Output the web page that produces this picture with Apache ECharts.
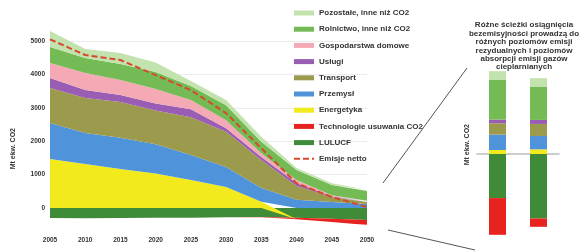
<!DOCTYPE html>
<html>
<head>
<meta charset="utf-8">
<script src="https://cdn.jsdelivr.net/npm/echarts@6/dist/echarts.min.js"></script>
<style>
  html, body { margin: 0; padding: 0; background: #fff; }
  #chart { width: 584px; height: 251px; }
</style>
</head>
<body>
<div id="chart"></div>
<script>
// lata na osi X
const years = ['2005', '2010', '2015', '2020', '2025', '2030', '2035', '2040', '2045', '2050']

// emisje wg sektorów [Mt ekw. CO2]
const energetyka = [1470, 1320, 1170, 1030, 840, 630, 190, 0, 0, 0]
const przemysl = [1075, 925, 930, 880, 750, 600, 410, 250, 180, 120]
const transport = [1045, 1045, 1070, 1010, 1130, 1050, 840, 410, 150, 60]
const uslugi = [300, 240, 210, 210, 240, 110, 90, 90, 20, 15]
const gospodarstwa = [450, 510, 450, 430, 270, 240, 110, 90, 30, 20]
const rolnictwo = [480, 450, 480, 510, 420, 450, 340, 300, 310, 295]
const pozostale = [480, 270, 330, 290, 150, 150, 150, 60, 50, 40]
const lulucf = [-300, -310, -300, -290, -290, -280, -270, -290, -320, -360]
const technologie = [0, 0, 0, 0, 0, 0, -10, -50, -100, -150]
const emisjeNetto = [5050, 4580, 4430, 3980, 3530, 2840, 1790, 740, 330, 30]

// dwie ścieżki w 2050 (prawy panel)
const sciezki = ['Ścieżka 1', 'Ścieżka 2']
const barEnergetyka = [120, 140]
const barPrzemysl = [460, 400]
const barTransport = [340, 360]
const barUslugi = [110, 120]
const barRolnictwo = [1200, 1000]
const barPozostale = [250, 250]
const barLulucf = [-1320, -1930]
const barTechnologie = [-1100, -250]

const yTicks = [0, 1000, 2000, 3000, 4000, 5000]

const colors = {
  'Pozostałe, inne niż CO2': '#c3e3ae',
  'Rolnictwo, inne niż CO2': '#74bb55',
  'Gospodarstwa domowe': '#f4a9b5',
  'Usługi': '#9a5db4',
  'Transport': '#9c9a4d',
  'Przemysł': '#4f93da',
  'Energetyka': '#f3ea1e',
  'Technologie usuwania CO2': '#e8231f',
  'LULUCF': '#408b38',
  'Emisje netto': '#d6492c'
}

const font = 'Liberation Sans Narrow, Liberation Sans, Arial, sans-serif'

const areaLayers = [
  ['LULUCF', lulucf],
  ['Technologie usuwania CO2', technologie],
  ['Energetyka', energetyka],
  ['Przemysł', przemysl],
  ['Transport', transport],
  ['Usługi', uslugi],
  ['Gospodarstwa domowe', gospodarstwa],
  ['Rolnictwo, inne niż CO2', rolnictwo],
  ['Pozostałe, inne niż CO2', pozostale]
]

const barLayers = [
  ['LULUCF', barLulucf],
  ['Technologie usuwania CO2', barTechnologie],
  ['Energetyka', barEnergetyka],
  ['Przemysł', barPrzemysl],
  ['Transport', barTransport],
  ['Usługi', barUslugi],
  ['Rolnictwo, inne niż CO2', barRolnictwo],
  ['Pozostałe, inne niż CO2', barPozostale]
]

const series = []
areaLayers.forEach(([name, data]) => {
  series.push({
    name, type: 'line', stack: 'main', data,
    xAxisIndex: 0, yAxisIndex: 0,
    symbol: 'none',
    color: colors[name],
    lineStyle: { width: 0 },
    areaStyle: { color: colors[name], opacity: 1 }
  })
})
series.push({
  name: 'Emisje netto', type: 'line', data: emisjeNetto,
  xAxisIndex: 0, yAxisIndex: 0,
  symbol: 'none', z: 5,
  color: colors['Emisje netto'],
  lineStyle: { width: 2, type: [6, 3], color: colors['Emisje netto'] }
})
barLayers.forEach(([name, data]) => {
  series.push({
    name, type: 'bar', stack: 'bars', data,
    xAxisIndex: 1, yAxisIndex: 1,
    barWidth: 17,
    color: colors[name],
    itemStyle: { color: colors[name] }
  })
})

const legendOrder = [
  'Pozostałe, inne niż CO2', 'Rolnictwo, inne niż CO2', 'Gospodarstwa domowe', 'Usługi',
  'Transport', 'Przemysł', 'Energetyka', 'Technologie usuwania CO2', 'LULUCF', 'Emisje netto'
]

const chart = echarts.init(document.getElementById('chart'))
chart.setOption({
  animation: false,
  backgroundColor: '#fff',
  legend: {
    orient: 'vertical',
    left: 293, top: 8, padding: 0,
    itemWidth: 20, itemHeight: 5, itemGap: 6.2,
    data: legendOrder.map(n => n === 'Emisje netto'
      ? { name: n, itemStyle: { opacity: 0 } }
      : { name: n, icon: 'rect' }),
    textStyle: { fontFamily: font, fontSize: 8, fontWeight: 'bold', color: '#333', lineHeight: 10 }
  },
  grid: [
    { left: 50, width: 317, top: 24.3, height: 200.4, outerBoundsMode: 'none' },
    { left: 477, width: 82, top: 70.5, height: 167, outerBoundsMode: 'none' }
  ],
  xAxis: [
    {
      type: 'category', gridIndex: 0, data: years, boundaryGap: false,
      axisLine: { onZero: true, lineStyle: { color: '#d5dccb', width: 1 } },
      axisTick: { show: false },
      axisLabel: { margin: 12, fontFamily: 'Liberation Sans, Arial', fontSize: 6.5, fontWeight: 'bold', color: '#333' }
    },
    {
      type: 'category', gridIndex: 1, data: sciezki,
      axisLine: { onZero: true, lineStyle: { color: '#bdbdbd', width: 1.5 } },
      axisTick: { show: false },
      axisLabel: { show: false }
    }
  ],
  yAxis: [
    {
      type: 'value', gridIndex: 0, min: -500, max: 5500, splitNumber: 6,
      axisLine: { show: false }, axisTick: { show: false },
      splitLine: { showMinLine: false, showMaxLine: false, lineStyle: { color: '#ececec', width: 1 } },
      axisLabel: {
        margin: 5, fontFamily: 'Liberation Sans, Arial', fontSize: 6.5, fontWeight: 'bold', color: '#333',
        formatter: v => yTicks.includes(v) ? String(v) : ''
      }
    },
    {
      type: 'value', gridIndex: 1, min: -2500, max: 2500,
      show: false
    }
  ],
  graphic: [
    {
      type: 'text', left: 10, top: 128, rotation: Math.PI / 2,
      style: { text: 'Mt ekw. CO2', font: 'bold 7px ' + font, fill: '#333' }
    },
    {
      type: 'text', left: 464, top: 124, rotation: Math.PI / 2,
      style: { text: 'Mt ekw. CO2', font: 'bold 7px ' + font, fill: '#333' }
    },
    {
      type: 'text', x: 524, y: 21,
      style: {
        text: 'Różne ścieżki osiągnięcia\nbezemisyjności prowadzą do\nróżnych poziomów emisji\nrezydualnych i poziomów\nabsorpcji emisji gazów\ncieplarnianych',
        font: 'bold 8px ' + font, fill: '#333', align: 'center', lineHeight: 8.4
      }
    },
    {
      type: 'line', shape: { x1: 383, y1: 183, x2: 467, y2: 68 },
      style: { stroke: '#5a5550', lineWidth: 1 }
    },
    {
      type: 'line', shape: { x1: 388, y1: 230, x2: 475, y2: 250 },
      style: { stroke: '#5a5550', lineWidth: 1 }
    }
  ],
  series
})
</script>
</body>
</html>
